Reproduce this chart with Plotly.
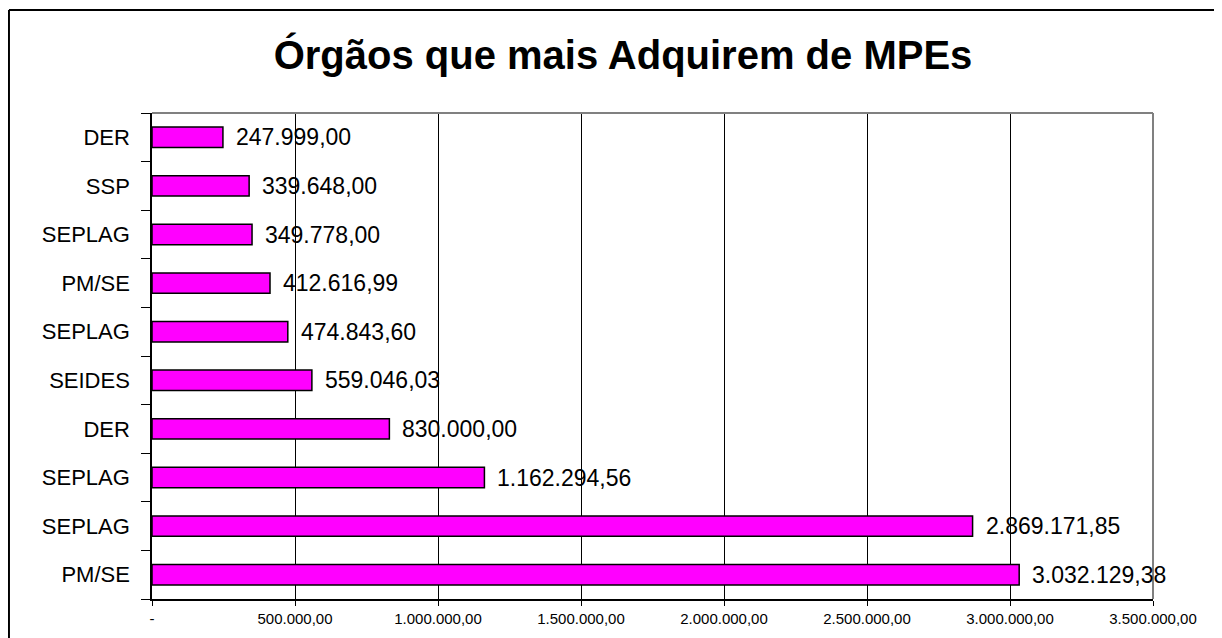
import plotly.graph_objects as go

# Data (top to bottom as displayed)
orgaos = ["DER", "SSP", "SEPLAG", "PM/SE", "SEPLAG", "SEIDES", "DER", "SEPLAG", "SEPLAG", "PM/SE"]
valores = [247999.00, 339648.00, 349778.00, 412616.99, 474843.60, 559046.03,
           830000.00, 1162294.56, 2869171.85, 3032129.38]
x_ticks = [0, 500000, 1000000, 1500000, 2000000, 2500000, 3000000, 3500000]


def fmt_br(v):
    s = f"{v:,.2f}"
    return s.replace(",", "X").replace(".", ",").replace("X", ".")


x_ticktext = ["-" if t == 0 else fmt_br(t) for t in x_ticks]

# bottom-to-top positions for plotting
n = len(orgaos)
ypos = [n - 1 - i for i in range(n)]

FONT = "Liberation Sans, Arial, sans-serif"

W, H = 1214, 630  # page has an 8px body margin

fig = go.Figure()
fig.add_trace(go.Bar(
    x=valores, y=ypos, orientation="h", width=0.42,
    marker=dict(color="#FF00FF", line=dict(color="black", width=1.5)),
    hoverinfo="x",
    showlegend=False,
))

for v, y in zip(valores, ypos):
    fig.add_annotation(x=v, y=y, text=fmt_br(v), showarrow=False,
                       xanchor="left", yanchor="middle", xshift=11,
                       font=dict(family=FONT, size=23, color="black"))

fig.update_layout(
    width=W, height=H,
    margin=dict(l=144, r=69, t=105, b=39),
    paper_bgcolor="white", plot_bgcolor="white",
    title=dict(text="<b>Órgãos que mais Adquirem de MPEs</b>",
               x=615 / W, xref="container", xanchor="center",
               y=1 - 47 / H, yref="container", yanchor="middle",
               font=dict(family=FONT, size=40, color="black")),
    xaxis=dict(range=[0, 3500000], tickvals=x_ticks, ticktext=x_ticktext,
               showgrid=True, gridcolor="black", gridwidth=1,
               showline=True, linecolor="black", linewidth=1.5,
               ticks="outside", ticklen=5, tickcolor="black", tickwidth=1,
               tickfont=dict(family=FONT, size=15, color="black"),
               zeroline=False, fixedrange=True),
    yaxis=dict(range=[-0.5, n - 0.5], tickvals=ypos, ticktext=orgaos,
               showgrid=False, showline=True, linecolor="black", linewidth=1.5,
               ticks="", ticklabelstandoff=16,
               tickfont=dict(family=FONT, size=22, color="black"),
               minor=dict(ticks="outside", tick0=-0.5, dtick=1, ticklen=9,
                          tickcolor="black", tickwidth=1, showgrid=False),
               zeroline=False, fixedrange=True),
    shapes=[
        # plot-area top and right border (gray)
        dict(type="line", xref="paper", yref="paper", x0=0, x1=1, y0=1, y1=1,
             line=dict(color="#808080", width=2)),
        dict(type="line", xref="paper", yref="paper", x0=1, x1=1, y0=0, y1=1,
             line=dict(color="#808080", width=2)),
        # outer chart border
        dict(type="line", xref="paper", yref="paper", x0=-0.1429, x1=1.2,
             y0=1.2119, y1=1.2119, line=dict(color="black", width=2)),
        dict(type="line", xref="paper", yref="paper", x0=-0.1429, x1=-0.1429,
             y0=-0.2, y1=1.2119, line=dict(color="black", width=2)),
    ],
)

fig.write_html("out.html")
